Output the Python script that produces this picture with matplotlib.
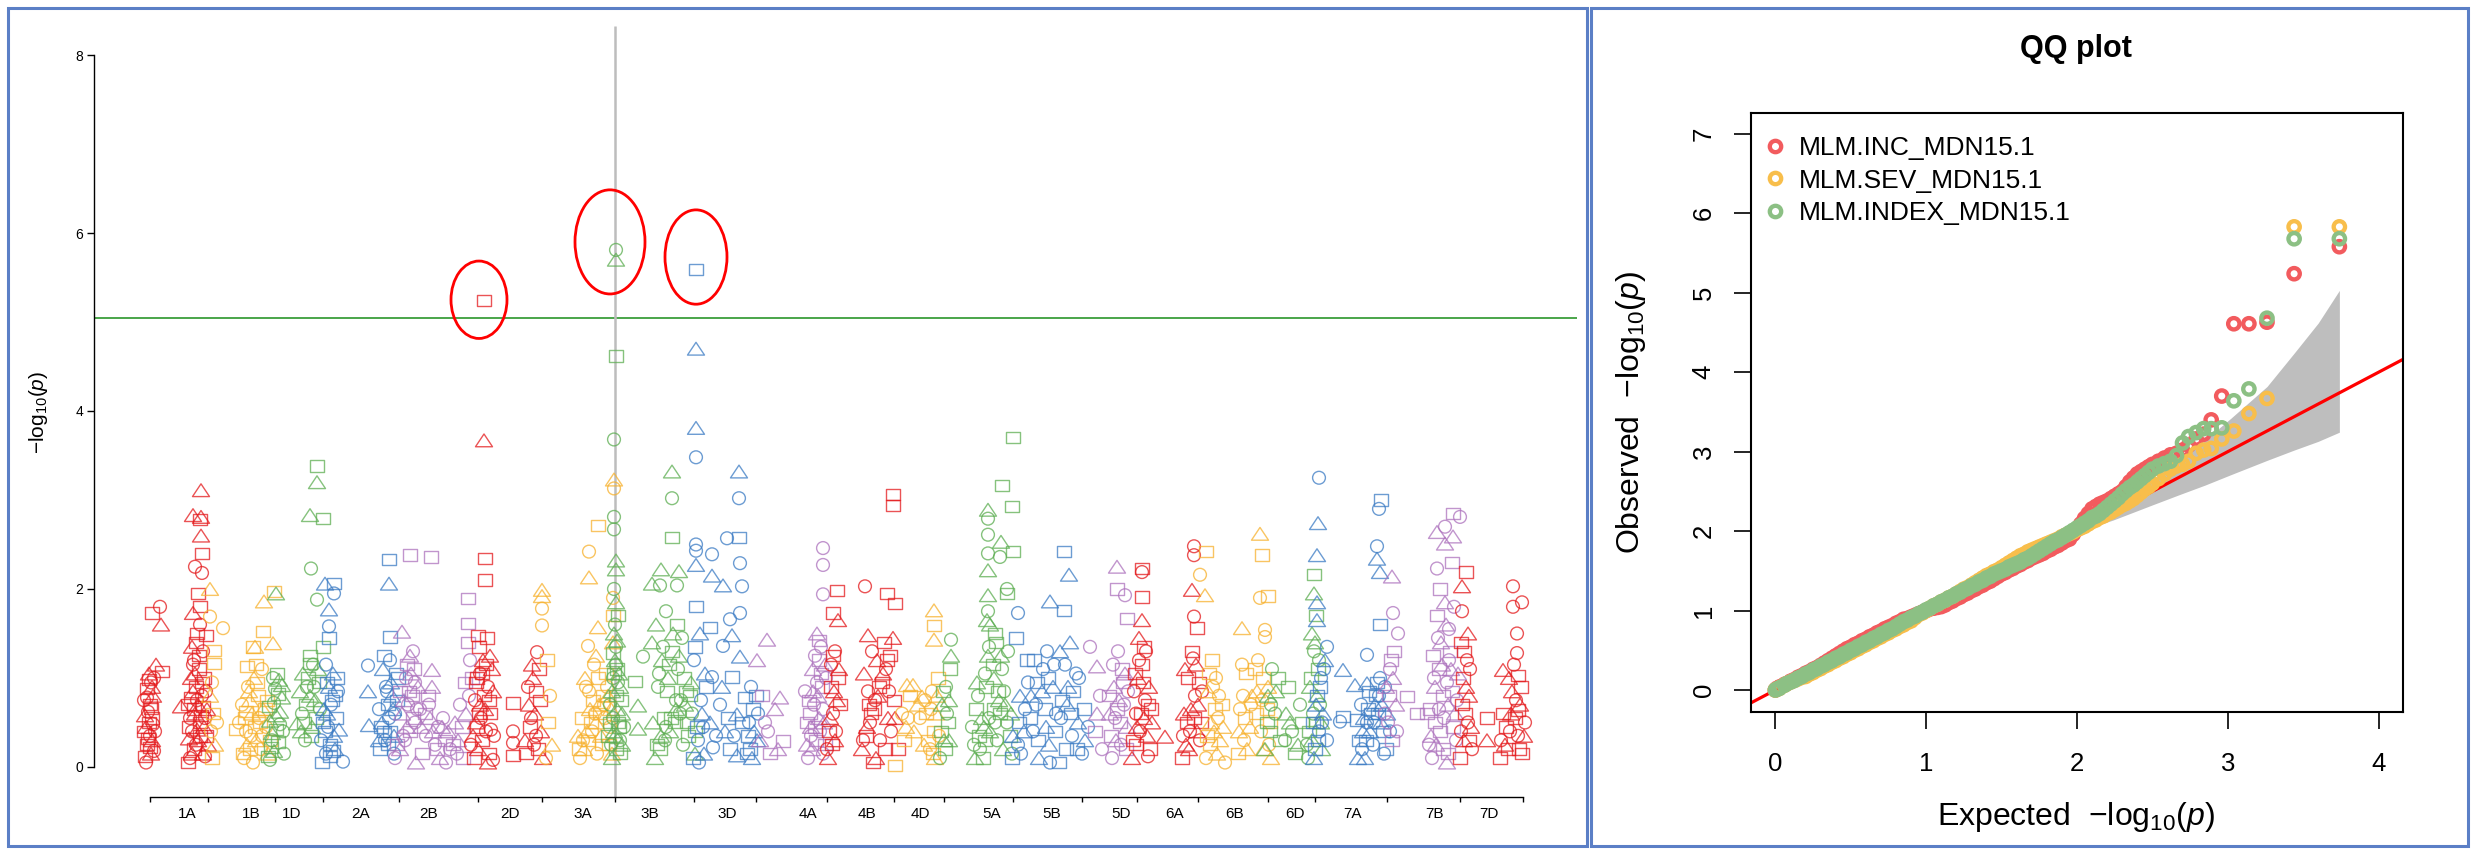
import matplotlib
matplotlib.use("Agg")
import matplotlib.pyplot as plt
from matplotlib.patches import Ellipse, Rectangle
from matplotlib.path import Path
from matplotlib.lines import Line2D

plt.rcParams["font.family"] = ["Liberation Sans", "DejaVu Sans"]
plt.rcParams["mathtext.fontset"] = "custom"
plt.rcParams["mathtext.rm"] = "Liberation Sans"
plt.rcParams["mathtext.it"] = "Liberation Sans:italic"

W, H = 2479, 857

# ---------------- Manhattan data ----------------
CHR_NAMES = ["1A", "1B", "1D", "2A", "2B", "2D", "3A", "3B", "3D", "4A", "4B",
             "4D", "5A", "5B", "5D", "6A", "6B", "6D", "7A", "7B", "7D"]
# chromosome boundaries on the cumulative position axis
CHR_BOUNDS = [0, 58, 125, 173, 249, 328, 392, 465, 544, 606, 677, 744, 794,
              863, 932, 987, 1048, 1118, 1165, 1237, 1310, 1373]
LABEL_POS = [37, 101, 142, 211, 279, 360, 433, 500, 577, 658, 717, 770, 842,
             902, 971, 1025, 1085, 1145, 1203, 1284, 1339]
THRESHOLD = 5.04
TRAITS = ["MLM.INC_MDN15.1", "MLM.SEV_MDN15.1", "MLM.INDEX_MDN15.1"]

# (position, -log10(p), trait) ; trait 0 = INC, 1 = SEV, 2 = INDEX
CHR_1A = [
    (-5, 0.12, 0), (-3, 0.25, 0), (0, 0.35, 1), (-4, 0.45, 2), (2, 0.55, 0), (-2, 0.62, 1),
    (0, 0.70, 0), (3, 0.80, 2), (-3, 0.88, 0), (1, 0.95, 1), (-1, 1.05, 2), (4, 0.18, 1),
    (2, 0.30, 2), (6, 1.15, 2), (2, 1.73, 0), (10, 1.80, 1), (11, 1.60, 2), (12, 1.07, 0),
    (-1, 0.50, 0), (5, 0.40, 1), (-6, 0.75, 1),
    (-4, 0.05, 1), (1, 0.15, 2), (-2, 0.32, 0), (3, 0.48, 1), (-5, 0.58, 2), (1, 0.66, 0),
    (-3, 0.78, 1), (2, 0.90, 2), (-1, 0.98, 0), (4, 1.00, 1), (0, 0.22, 0), (-6, 0.40, 0),
    (31, 0.68, 2), (40, 0.10, 1), (44, 0.20, 0), (48, 0.30, 2), (42, 0.40, 1), (50, 0.50, 0),
    (45, 0.60, 2), (38, 0.70, 0), (52, 0.80, 1), (46, 0.90, 0), (41, 1.00, 2), (49, 1.10, 0),
    (44, 1.20, 1), (53, 0.15, 2), (56, 0.35, 0), (55, 0.55, 1), (58, 0.25, 2), (39, 0.45, 0),
    (47, 0.75, 1), (54, 1.00, 0), (57, 0.65, 2), (43, 0.85, 2),
    (38, 0.05, 0), (42, 0.15, 2), (46, 0.25, 1), (50, 0.35, 0), (54, 0.45, 2), (40, 0.55, 1),
    (44, 0.65, 0), (48, 0.70, 2), (52, 0.95, 0), (56, 0.85, 1), (41, 0.78, 0), (45, 1.05, 2),
    (49, 1.25, 0), (43, 1.15, 1), (51, 0.58, 0), (47, 0.42, 2), (55, 0.12, 1), (39, 0.32, 2),
    (53, 0.68, 0), (46, 1.40, 0),
    (51, 3.11, 2), (43, 2.83, 2), (51, 2.81, 2), (50, 2.78, 0), (51, 2.60, 2), (52, 2.40, 0),
    (45, 2.25, 1), (52, 2.18, 1), (48, 1.95, 0), (50, 1.80, 0), (43, 1.73, 2), (50, 1.60, 1),
    (47, 1.50, 0), (56, 1.48, 0), (42, 1.35, 2), (53, 1.30, 1),
]
CHR_1B = [
    (60, 2.00, 2), (60, 1.69, 1), (73, 1.56, 1), (64, 1.31, 0), (64, 1.16, 0), (62, 0.95, 1),
    (60, 0.80, 2), (63, 0.60, 0), (61, 0.40, 1), (65, 0.25, 2), (62, 0.10, 0), (67, 0.50, 1),
    (114, 1.86, 2), (124, 1.97, 0), (113, 1.52, 0), (103, 1.35, 0), (123, 1.39, 2), (97, 1.13, 0),
    (105, 1.35, 2), (86, 0.42, 0),
    (94, 0.10, 1), (100, 0.20, 0), (106, 0.30, 2), (96, 0.40, 1), (110, 0.50, 0), (102, 0.60, 2),
    (92, 0.70, 1), (108, 0.80, 0), (98, 0.90, 1), (104, 1.00, 2), (112, 0.35, 1), (115, 0.65, 0),
    (118, 0.15, 2), (95, 0.55, 0), (100, 0.75, 2), (112, 1.10, 1),
    (93, 0.15, 0), (97, 0.25, 2), (101, 0.35, 1), (105, 0.45, 0), (109, 0.55, 1), (113, 0.65, 2),
    (117, 0.75, 0), (99, 0.85, 2), (107, 0.95, 0), (111, 0.20, 1), (103, 0.05, 1), (96, 0.62, 0),
    (116, 0.45, 1), (120, 0.30, 0), (89, 0.50, 1), (106, 1.15, 0),
]
CHR_1D = [
    (167, 3.38, 0), (167, 3.20, 2), (160, 2.83, 2), (173, 2.79, 0), (161, 2.23, 1), (167, 1.88, 1),
    (173, 1.35, 0), (160, 1.16, 0), (147, 0.49, 2), (126, 1.95, 2),
    (120, 0.08, 1), (124, 0.18, 2), (128, 0.28, 0), (122, 0.38, 2), (130, 0.48, 1), (126, 0.58, 2),
    (119, 0.68, 0), (132, 0.78, 2), (125, 0.88, 1), (129, 0.98, 2), (121, 0.22, 0), (133, 0.40, 1),
    (127, 1.05, 0),
    (118, 0.12, 0), (122, 0.30, 1), (126, 0.42, 0), (130, 0.62, 2), (124, 0.72, 1), (128, 0.82, 0),
    (132, 0.92, 2), (120, 0.52, 2), (134, 0.15, 1), (123, 1.00, 1),
    (152, 0.60, 1), (156, 0.70, 0), (160, 0.80, 2), (164, 0.90, 1), (158, 1.00, 0), (162, 0.45, 2),
    (155, 0.30, 1), (166, 0.55, 0), (170, 0.65, 1), (150, 0.85, 2), (168, 1.10, 2), (160, 1.25, 0),
    (151, 0.40, 2), (154, 0.50, 0), (157, 0.90, 1), (161, 0.35, 0), (165, 0.75, 2), (169, 0.95, 0),
    (163, 1.15, 1), (153, 1.05, 2),
]
CHR_2A = [
    (184, 2.06, 0), (175, 2.06, 2), (184, 1.95, 1), (179, 1.77, 2), (179, 1.58, 1), (179, 1.45, 0),
    (193, 0.06, 1), (218, 1.14, 1), (218, 0.85, 2), (219, 0.47, 2), (239, 2.33, 0), (239, 2.06, 2),
    (240, 1.46, 0),
    (172, 0.05, 0), (176, 0.15, 1), (180, 0.25, 0), (184, 0.35, 2), (178, 0.45, 1), (186, 0.55, 0),
    (174, 0.65, 2), (182, 0.75, 0), (188, 0.85, 1), (177, 0.95, 0), (183, 1.05, 2), (180, 0.12, 0),
    (185, 0.20, 2), (175, 0.40, 0),
    (171, 0.30, 1), (173, 0.50, 0), (177, 0.60, 2), (181, 0.70, 1), (185, 0.80, 0), (179, 0.90, 2),
    (187, 1.00, 0), (176, 1.15, 1), (183, 0.18, 0), (189, 0.42, 2),
    (230, 0.20, 0), (235, 0.30, 1), (240, 0.40, 0), (232, 0.50, 2), (245, 0.60, 1), (238, 0.70, 0),
    (242, 0.80, 2), (236, 0.90, 1), (248, 1.00, 0), (233, 1.10, 2), (244, 0.35, 2), (240, 1.20, 1),
    (231, 0.45, 0),
    (229, 0.30, 2), (234, 0.40, 0), (239, 0.55, 1), (243, 0.65, 2), (247, 0.75, 0), (237, 0.85, 1),
    (241, 0.95, 2), (246, 1.05, 0), (234, 1.25, 0), (229, 0.65, 1), (244, 0.15, 1), (238, 0.25, 0),
]
CHR_2B = [
    (260, 2.38, 0), (281, 2.36, 0), (252, 1.52, 2), (282, 1.09, 2), (318, 1.89, 0), (318, 1.61, 0),
    (292, 0.45, 2),
    (245, 0.10, 1), (250, 0.20, 2), (255, 0.30, 1), (260, 0.40, 0), (265, 0.50, 1), (252, 0.60, 2),
    (258, 0.70, 1), (262, 0.80, 0), (268, 0.90, 2), (256, 1.00, 1), (264, 1.10, 0), (260, 1.25, 2),
    (272, 0.15, 0), (276, 0.35, 1), (280, 0.55, 2), (270, 0.65, 1), (285, 0.25, 1), (290, 0.10, 2),
    (295, 0.30, 0), (288, 0.45, 1), (278, 0.80, 0), (300, 0.20, 1), (305, 0.50, 2), (310, 0.70, 1),
    (315, 0.95, 0), (308, 0.30, 2), (313, 0.10, 0), (320, 1.20, 1), (318, 1.40, 0), (250, 0.85, 0),
    (266, 0.05, 2),
    (247, 0.25, 0), (253, 0.35, 1), (257, 0.45, 2), (263, 0.55, 0), (267, 0.65, 1), (254, 0.75, 2),
    (259, 0.85, 0), (265, 0.95, 1), (261, 1.05, 2), (257, 1.15, 0), (263, 1.30, 1), (271, 0.45, 2),
    (275, 0.60, 0), (279, 0.70, 1), (283, 0.40, 2), (287, 0.20, 0), (293, 0.55, 1), (298, 0.40, 2),
    (303, 0.25, 0), (307, 0.15, 1), (312, 0.45, 0), (316, 0.60, 2), (319, 0.80, 1), (322, 1.00, 0),
    (296, 0.05, 1), (282, 0.90, 2),
]
CHR_2D = [
    (334, 5.24, 0), (334, 3.67, 2), (335, 2.34, 0), (335, 2.10, 0), (328, 1.48, 0),
    (324, 0.10, 0), (328, 0.20, 2), (332, 0.30, 0), (336, 0.40, 1), (326, 0.50, 2), (340, 0.60, 0),
    (330, 0.70, 2), (334, 0.80, 0), (338, 0.90, 1), (327, 1.00, 0), (342, 1.10, 2), (333, 1.20, 2),
    (329, 1.35, 0), (337, 1.45, 0), (344, 0.35, 1), (321, 0.25, 1), (339, 0.15, 0), (325, 0.75, 1),
    (323, 0.35, 2), (327, 0.45, 0), (331, 0.55, 1), (335, 0.65, 2), (339, 0.75, 0), (343, 0.85, 2),
    (326, 0.95, 0), (330, 1.05, 1), (336, 1.15, 0), (340, 1.25, 2), (332, 1.05, 0), (338, 0.05, 2),
    (329, 0.60, 0), (341, 0.42, 1),
    (363, 0.72, 0), (363, 0.40, 1), (363, 0.27, 1), (363, 0.13, 0), (343, 0.08, 1),
    (387, 1.29, 1), (382, 1.15, 2), (375, 0.30, 2), (380, 0.45, 0), (385, 0.60, 2), (390, 0.75, 0),
    (378, 0.90, 1), (388, 0.20, 0), (393, 0.10, 2), (383, 1.00, 2), (386, 0.35, 1),
    (376, 0.15, 0), (381, 0.55, 1), (386, 0.85, 0), (391, 0.40, 2), (384, 0.25, 1), (389, 1.10, 0),
    (379, 0.70, 2),
]
CHR_3A = [
    (392, 1.99, 2), (392, 1.92, 2), (392, 1.78, 1), (392, 1.59, 1), (397, 1.20, 0), (400, 0.80, 1),
    (398, 0.50, 0), (402, 0.25, 2), (396, 0.10, 1),
    (439, 2.42, 1), (439, 2.13, 2), (448, 2.71, 0), (448, 1.57, 2), (438, 1.36, 1), (464, 3.23, 2),
    (464, 3.13, 1),
    (430, 0.10, 1), (434, 0.20, 2), (438, 0.30, 0), (442, 0.40, 1), (446, 0.50, 2), (450, 0.60, 0),
    (454, 0.70, 1), (458, 0.80, 2), (436, 0.90, 1), (448, 1.00, 0), (444, 1.15, 1), (452, 0.25, 0),
    (460, 0.45, 1), (462, 0.15, 2), (440, 0.65, 2), (456, 1.05, 0), (463, 1.90, 1), (463, 1.70, 0),
    (463, 1.40, 2), (428, 0.35, 2),
    (429, 0.20, 0), (433, 0.30, 1), (437, 0.40, 2), (441, 0.50, 0), (445, 0.60, 1), (449, 0.70, 2),
    (453, 0.80, 0), (457, 0.90, 1), (435, 1.00, 2), (447, 0.15, 1), (451, 0.35, 2), (455, 0.55, 1),
    (459, 0.25, 0), (443, 0.75, 0), (439, 0.85, 1), (461, 0.65, 2), (432, 0.55, 0), (446, 1.25, 2),
]
CHR_3B = [
    (466, 5.81, 1), (466, 5.70, 2), (466, 4.62, 0), (464, 3.68, 1), (464, 2.81, 1), (464, 2.67, 1),
    (466, 2.32, 2), (466, 2.22, 2),
    (462, 0.10, 2), (466, 0.20, 0), (470, 0.30, 1), (464, 0.40, 2), (468, 0.50, 0), (472, 0.60, 2),
    (460, 0.70, 1), (466, 0.80, 0), (470, 0.90, 2), (463, 1.00, 1), (467, 1.10, 0), (465, 1.20, 2),
    (466, 1.35, 1), (464, 1.50, 2), (468, 1.70, 0), (466, 1.85, 2), (464, 2.00, 1), (470, 0.15, 0),
    (474, 0.45, 1), (458, 0.35, 0),
    (461, 0.25, 1), (465, 0.35, 2), (469, 0.45, 0), (463, 0.55, 1), (467, 0.65, 2), (471, 0.75, 0),
    (462, 0.85, 2), (468, 0.95, 1), (464, 1.05, 0), (466, 1.15, 1), (463, 1.28, 0), (467, 1.42, 2),
    (465, 1.60, 1), (469, 1.05, 2), (472, 0.25, 2), (460, 0.50, 0),
    (485, 0.96, 0), (493, 1.24, 1), (488, 0.69, 2), (488, 0.43, 2),
    (522, 3.32, 2), (522, 3.02, 1), (522, 2.58, 0), (502, 2.06, 2), (511, 2.22, 2), (529, 2.20, 2),
    (510, 2.04, 1), (527, 2.04, 1),
    (505, 0.10, 2), (510, 0.20, 0), (515, 0.30, 1), (520, 0.40, 2), (525, 0.50, 0), (530, 0.60, 1),
    (535, 0.70, 2), (540, 0.80, 0), (508, 0.90, 1), (518, 1.00, 2), (528, 1.10, 1), (512, 1.20, 2),
    (522, 1.30, 0), (532, 1.45, 1), (506, 1.60, 2), (516, 1.75, 1), (538, 0.35, 0), (545, 0.15, 2),
    (526, 0.75, 1), (534, 1.00, 0), (514, 0.55, 0), (502, 1.40, 2),
    (507, 0.25, 0), (511, 0.35, 2), (516, 0.45, 1), (521, 0.55, 0), (526, 0.65, 2), (531, 0.75, 1),
    (536, 0.85, 0), (541, 0.95, 2), (509, 1.05, 1), (519, 1.15, 0), (529, 1.25, 2), (513, 1.35, 1),
    (523, 1.50, 2), (533, 0.25, 1), (537, 0.50, 0), (542, 0.60, 1), (517, 0.85, 0), (527, 1.60, 0),
    (503, 0.50, 2), (545, 0.40, 0),
]
CHR_3D = [
    (546, 5.59, 0), (546, 4.70, 2), (546, 3.81, 2), (546, 3.48, 1), (589, 3.32, 2), (589, 3.02, 1),
    (589, 2.58, 0), (577, 2.57, 1), (546, 2.50, 1), (546, 2.43, 1), (562, 2.39, 1), (590, 2.29, 1),
    (546, 2.27, 2), (592, 2.03, 1), (562, 2.15, 2), (573, 2.04, 2), (590, 1.73, 1), (580, 1.66, 1),
    (560, 1.57, 0), (582, 1.48, 2), (573, 1.36, 1), (590, 1.24, 2), (562, 1.01, 1), (582, 1.01, 0),
    (595, 0.78, 0), (587, 0.59, 2), (560, 0.50, 2), (563, 0.22, 1), (587, 0.13, 2), (543, 0.10, 0),
    (548, 0.30, 1), (552, 0.60, 2), (556, 0.90, 0), (544, 1.20, 1), (550, 1.50, 2), (546, 1.80, 0),
    (554, 0.15, 2), (600, 0.20, 0), (604, 0.40, 2), (608, 0.60, 1), (602, 0.10, 2), (598, 0.35, 0),
    (606, 0.80, 0), (570, 0.70, 1), (575, 0.40, 2), (580, 0.20, 0),
    (547, 0.45, 0), (551, 0.75, 1), (555, 1.05, 2), (545, 1.35, 0), (549, 0.05, 1), (553, 0.45, 1),
    (599, 0.50, 1), (603, 0.65, 0), (607, 0.30, 2), (601, 0.90, 1), (597, 0.15, 0), (572, 0.90, 2),
    (578, 0.55, 0), (566, 0.35, 1), (584, 0.35, 1), (592, 0.50, 0),
]
CHR_4A = [
    (617, 1.43, 2), (607, 1.20, 2), (633, 0.29, 0), (630, 0.78, 2), (673, 2.46, 1), (673, 2.27, 1),
    (673, 1.94, 1),
    (658, 0.10, 1), (662, 0.20, 2), (666, 0.30, 0), (670, 0.40, 1), (674, 0.50, 2), (660, 0.60, 0),
    (664, 0.70, 1), (668, 0.80, 2), (672, 0.90, 0), (676, 1.00, 1), (663, 1.10, 2), (669, 1.20, 0),
    (671, 1.35, 1), (667, 1.50, 2), (661, 0.45, 2), (675, 0.25, 0), (655, 0.85, 1), (610, 0.30, 2),
    (615, 0.50, 1), (620, 0.15, 0), (625, 0.65, 2),
    (657, 0.25, 2), (661, 0.35, 1), (665, 0.45, 0), (669, 0.55, 2), (673, 0.65, 1), (659, 0.75, 0),
    (663, 0.85, 2), (667, 0.95, 1), (671, 1.05, 0), (675, 1.15, 2), (665, 1.25, 1), (669, 1.42, 0),
    (657, 0.50, 0), (673, 0.15, 1), (612, 0.80, 0), (618, 0.40, 1), (628, 0.20, 2),
]
CHR_4B = [
    (687, 1.98, 0), (683, 1.73, 0), (688, 1.65, 2), (685, 1.30, 1),
    (678, 0.10, 2), (682, 0.25, 0), (686, 0.40, 1), (680, 0.55, 2), (690, 0.70, 0), (684, 0.85, 2),
    (688, 1.00, 0), (681, 1.15, 1), (685, 0.30, 2),
    (679, 0.40, 0), (683, 0.60, 1), (687, 0.75, 2), (681, 0.90, 0), (689, 1.10, 2), (683, 1.25, 0),
    (677, 0.20, 1),
    (715, 2.03, 1), (743, 3.06, 0), (743, 2.94, 0), (737, 1.95, 0), (745, 1.84, 0), (718, 1.48, 2),
    (743, 1.45, 2),
    (712, 0.20, 2), (716, 0.35, 0), (720, 0.50, 1), (724, 0.65, 0), (728, 0.80, 2), (732, 0.95, 0),
    (736, 1.10, 1), (740, 1.25, 0), (714, 1.05, 2), (722, 1.30, 1), (730, 0.30, 1), (738, 0.55, 2),
    (744, 0.75, 0), (748, 0.20, 0), (726, 0.10, 2), (734, 1.40, 0), (718, 0.85, 1),
    (713, 0.30, 1), (717, 0.45, 2), (721, 0.60, 0), (725, 0.75, 1), (729, 0.90, 0), (733, 1.05, 2),
    (737, 1.20, 0), (741, 0.40, 1), (745, 0.55, 2), (719, 0.70, 0), (727, 1.20, 2), (735, 0.20, 0),
    (739, 0.85, 1), (723, 0.05, 0),
]
CHR_4D = [
    (745, 0.02, 0), (757, 0.92, 2), (763, 0.92, 2), (772, 0.79, 2), (775, 0.75, 1), (784, 1.76, 2),
    (784, 1.59, 0), (784, 1.43, 2),
    (752, 0.60, 1), (760, 0.80, 0), (768, 0.70, 2), (780, 0.20, 1), (784, 0.40, 0), (786, 0.60, 2),
    (782, 0.85, 1), (788, 1.00, 0), (785, 0.10, 2), (778, 0.30, 0), (756, 0.45, 2),
    (754, 0.30, 0), (758, 0.55, 1), (764, 0.40, 2), (770, 0.55, 1), (776, 0.60, 0), (781, 0.65, 1),
    (787, 0.80, 2), (783, 0.15, 0), (789, 0.35, 1), (774, 0.25, 2),
]
CHR_5A = [
    (801, 1.43, 1), (790, 0.10, 1), (794, 0.30, 2), (798, 0.50, 0), (792, 0.70, 2), (796, 0.90, 1),
    (800, 1.10, 0), (795, 0.20, 0), (799, 0.75, 2),
    (791, 0.40, 0), (797, 0.60, 1), (793, 0.85, 0), (799, 0.30, 2), (801, 1.25, 2),
    (863, 3.70, 0), (852, 3.16, 0), (862, 2.93, 0), (838, 2.89, 2), (838, 2.79, 1), (838, 2.61, 1),
    (851, 2.53, 2), (863, 2.42, 0), (838, 2.40, 1), (838, 2.21, 2), (850, 2.36, 1), (857, 2.00, 1),
    (857, 1.95, 0), (838, 1.93, 2),
    (825, 0.10, 2), (830, 0.20, 1), (835, 0.30, 0), (840, 0.40, 2), (845, 0.50, 1), (850, 0.60, 0),
    (855, 0.70, 2), (828, 0.80, 1), (836, 0.90, 0), (844, 1.00, 2), (852, 1.10, 1), (838, 1.25, 2),
    (846, 1.40, 0), (840, 1.60, 2), (838, 1.75, 1), (858, 1.30, 1), (860, 0.35, 0), (832, 0.55, 2),
    (848, 0.85, 0), (822, 0.45, 1), (862, 0.15, 1),
    (824, 0.25, 1), (829, 0.35, 0), (834, 0.45, 2), (839, 0.55, 1), (844, 0.65, 0), (849, 0.75, 2),
    (854, 0.85, 1), (827, 0.95, 2), (835, 1.05, 1), (843, 1.15, 0), (851, 1.25, 2), (839, 1.35, 1),
    (845, 1.50, 0), (837, 1.65, 2), (857, 0.50, 1), (861, 0.60, 2), (826, 0.65, 0), (853, 0.20, 2),
    (847, 0.30, 1), (833, 0.10, 0),
]
CHR_5B = [
    (914, 2.42, 0), (919, 2.16, 2), (900, 1.86, 2), (914, 1.76, 0), (868, 1.73, 1),
    (862, 0.10, 0), (868, 0.25, 1), (874, 0.40, 2), (880, 0.55, 0), (886, 0.70, 1), (892, 0.85, 2),
    (898, 1.00, 0), (904, 1.15, 1), (910, 1.30, 2), (916, 0.20, 0), (922, 0.35, 1), (928, 0.50, 2),
    (934, 0.65, 0), (870, 0.80, 2), (878, 0.95, 1), (888, 0.30, 0), (896, 0.45, 2), (906, 0.60, 1),
    (912, 0.75, 0), (918, 0.90, 2), (926, 1.05, 1), (932, 0.15, 1), (884, 1.20, 0), (900, 0.05, 1),
    (920, 1.40, 2), (866, 1.45, 0),
    (863, 0.35, 2), (869, 0.50, 0), (875, 0.65, 1), (881, 0.80, 2), (887, 0.95, 0), (893, 1.10, 1),
    (899, 0.25, 2), (905, 0.40, 0), (911, 0.55, 1), (917, 0.70, 2), (923, 0.85, 0), (929, 1.00, 1),
    (935, 0.30, 2), (871, 0.15, 1), (877, 1.20, 0), (889, 0.10, 2), (895, 0.65, 0), (903, 0.90, 2),
    (909, 0.05, 0), (915, 1.15, 1), (927, 0.20, 0), (883, 0.40, 1), (897, 1.30, 1), (921, 0.60, 0),
    (938, 0.45, 1),
]
CHR_5D = [
    (940, 1.35, 1), (947, 1.13, 2), (967, 2.25, 2), (967, 2.00, 0), (975, 1.93, 1), (977, 1.67, 0),
    (962, 0.10, 1), (966, 0.30, 2), (970, 0.50, 0), (974, 0.70, 1), (964, 0.90, 2), (972, 1.10, 0),
    (968, 1.30, 1), (976, 0.20, 0), (960, 0.60, 2), (978, 0.85, 1), (945, 0.40, 0), (950, 0.80, 1),
    (961, 0.35, 0), (965, 0.55, 1), (969, 0.75, 2), (973, 0.95, 0), (977, 0.45, 2), (963, 1.15, 1),
    (971, 0.25, 1), (975, 1.05, 2), (959, 0.80, 0), (967, 0.65, 0), (947, 0.60, 2), (952, 0.20, 1),
]
CHR_6A = [
    (992, 2.19, 1), (992, 2.23, 0), (992, 1.91, 0), (992, 1.65, 2), (1015, 0.34, 2),
    (982, 0.10, 2), (986, 0.25, 0), (990, 0.40, 1), (994, 0.55, 2), (998, 0.70, 0), (984, 0.85, 1),
    (988, 1.00, 2), (992, 1.15, 0), (996, 1.30, 1), (1000, 0.20, 0), (1002, 0.50, 2), (989, 1.45, 2),
    (993, 0.95, 0),
    (983, 0.30, 0), (987, 0.45, 2), (991, 0.60, 0), (995, 0.75, 1), (999, 0.90, 2), (985, 1.05, 0),
    (989, 1.20, 1), (997, 0.35, 2), (1001, 0.65, 0), (994, 1.35, 0), (986, 0.60, 1), (998, 0.12, 1),
    (1044, 2.48, 1), (1044, 2.38, 1), (1042, 1.99, 2), (1044, 1.69, 1), (1047, 1.56, 0),
    (1032, 0.10, 0), (1036, 0.25, 2), (1040, 0.40, 1), (1044, 0.55, 0), (1048, 0.70, 2),
    (1052, 0.85, 1), (1038, 1.00, 0), (1046, 1.15, 2), (1042, 1.30, 0), (1050, 0.30, 1),
    (1034, 0.60, 2),
    (1033, 0.35, 1), (1037, 0.50, 0), (1041, 0.65, 2), (1045, 0.80, 1), (1049, 0.95, 0),
    (1035, 1.10, 2), (1043, 1.22, 1), (1051, 0.50, 0), (1039, 0.20, 2), (1047, 0.40, 2),
]
CHR_6B = [
    (1056, 2.42, 0), (1050, 2.16, 1), (1055, 1.93, 2), (1092, 1.56, 2), (1110, 2.62, 2),
    (1112, 2.38, 0), (1118, 1.92, 0), (1110, 1.90, 1), (1115, 1.54, 1), (1115, 1.46, 1),
    (1092, 1.15, 1),
    (1056, 0.10, 1), (1060, 0.25, 0), (1064, 0.40, 2), (1068, 0.55, 1), (1072, 0.70, 0),
    (1058, 0.85, 2), (1066, 1.00, 1), (1062, 1.20, 0), (1070, 0.30, 2), (1075, 0.05, 1),
    (1057, 0.35, 0), (1061, 0.50, 2), (1065, 0.65, 0), (1069, 0.80, 1), (1073, 0.45, 2),
    (1059, 1.05, 0), (1067, 0.15, 2), (1063, 0.90, 1),
    (1088, 0.15, 0), (1094, 0.30, 1), (1100, 0.45, 2), (1106, 0.60, 0), (1112, 0.75, 1),
    (1118, 0.90, 2), (1096, 1.05, 0), (1108, 1.20, 1), (1114, 0.20, 2), (1120, 0.50, 0),
    (1102, 0.80, 2), (1090, 0.65, 1),
    (1089, 0.40, 2), (1095, 0.55, 0), (1101, 0.70, 1), (1107, 0.85, 2), (1113, 1.00, 0),
    (1119, 0.25, 1), (1097, 0.20, 2), (1105, 1.10, 0), (1111, 0.40, 1), (1117, 0.65, 0),
    (1093, 0.80, 1), (1121, 0.10, 2),
]
CHR_6D = [
    (1115, 0.20, 2), (1120, 0.40, 0), (1125, 0.60, 1), (1118, 0.80, 2), (1128, 1.00, 0),
    (1122, 1.10, 1), (1135, 0.30, 1), (1140, 0.50, 2), (1145, 0.15, 0), (1150, 0.70, 1),
    (1138, 0.90, 0),
    (1117, 0.50, 0), (1121, 0.70, 1), (1126, 0.85, 2), (1130, 0.30, 0), (1136, 0.60, 2),
    (1142, 0.40, 1), (1148, 0.25, 2), (1152, 0.50, 0),
    (1164, 2.16, 0), (1164, 1.95, 2),
    (1158, 0.10, 1), (1162, 0.30, 2), (1166, 0.50, 0), (1170, 0.70, 1), (1160, 0.90, 2),
    (1168, 1.10, 0), (1164, 1.30, 1), (1162, 1.50, 2), (1166, 1.70, 0), (1172, 0.20, 2),
    (1159, 0.40, 0), (1163, 0.60, 1), (1167, 0.80, 2), (1161, 1.00, 0), (1169, 1.20, 1),
    (1165, 1.40, 2), (1171, 0.50, 2), (1157, 0.25, 1),
]
CHR_7A = [
    (1169, 3.25, 1), (1168, 2.74, 2), (1167, 2.38, 2), (1167, 1.85, 2), (1167, 1.65, 2),
    (1177, 1.35, 1),
    (1165, 0.20, 0), (1169, 0.40, 1), (1173, 0.60, 2), (1167, 0.80, 0), (1171, 1.00, 1),
    (1175, 1.20, 2), (1163, 0.50, 0), (1177, 0.30, 1),
    (1164, 0.10, 2), (1168, 0.30, 0), (1172, 0.50, 1), (1166, 0.70, 2), (1170, 0.90, 0),
    (1174, 1.10, 1),
    (1231, 3.00, 0), (1229, 2.90, 1), (1227, 2.48, 1), (1227, 2.34, 2), (1230, 2.19, 2),
    (1230, 1.60, 0), (1193, 1.09, 2), (1217, 1.26, 1), (1205, 0.92, 2), (1217, 0.94, 2),
    (1190, 0.51, 1), (1193, 0.57, 0), (1207, 0.53, 0),
    (1208, 0.10, 2), (1212, 0.20, 1), (1216, 0.30, 0), (1220, 0.40, 2), (1224, 0.50, 1),
    (1228, 0.60, 0), (1232, 0.70, 2), (1236, 0.20, 0), (1240, 0.40, 1), (1214, 0.55, 2),
    (1226, 0.80, 0), (1234, 0.15, 1), (1218, 0.65, 0), (1230, 1.00, 1),
    (1209, 0.30, 0), (1213, 0.40, 2), (1217, 0.50, 1), (1221, 0.60, 0), (1225, 0.70, 2),
    (1229, 0.80, 1), (1233, 0.40, 0), (1237, 0.60, 2), (1211, 0.70, 1), (1219, 0.85, 0),
    (1215, 0.10, 2), (1223, 0.25, 1), (1231, 0.50, 2), (1227, 0.95, 0), (1235, 0.90, 1),
]
CHR_7B = [
    (1242, 2.14, 2), (1243, 1.73, 1), (1257, 0.79, 0), (1267, 0.60, 0), (1277, 0.60, 0),
    (1236, 0.90, 2), (1240, 1.10, 1), (1244, 1.30, 0), (1238, 0.50, 1), (1246, 0.70, 2),
    (1242, 0.30, 0), (1248, 1.50, 1),
    (1235, 0.60, 1), (1239, 0.80, 0), (1243, 1.00, 2), (1247, 0.40, 1), (1241, 1.20, 0),
    (1303, 2.85, 0), (1310, 2.81, 1), (1287, 2.64, 2), (1295, 2.70, 1), (1295, 2.51, 2),
    (1303, 2.59, 2), (1302, 2.30, 0), (1287, 2.23, 1),
    (1282, 0.10, 1), (1286, 0.25, 2), (1290, 0.40, 0), (1294, 0.55, 1), (1298, 0.70, 2),
    (1302, 0.85, 0), (1284, 1.00, 1), (1292, 1.15, 2), (1300, 1.30, 0), (1288, 1.45, 1),
    (1296, 1.60, 2), (1304, 1.80, 1), (1290, 2.00, 0), (1306, 0.30, 1), (1280, 0.65, 0),
    (1308, 1.05, 2), (1298, 0.15, 0),
    (1281, 0.35, 2), (1285, 0.50, 0), (1289, 0.65, 1), (1293, 0.80, 0), (1297, 0.95, 1),
    (1301, 1.10, 2), (1283, 1.25, 0), (1291, 1.40, 2), (1299, 1.55, 1), (1287, 1.70, 0),
    (1295, 1.85, 2), (1303, 0.45, 0), (1305, 0.60, 2), (1279, 0.25, 1), (1307, 0.75, 1),
    (1285, 0.90, 2), (1293, 0.20, 0), (1299, 1.20, 1), (1289, 1.10, 0), (1297, 0.05, 2),
]
CHR_7D = [
    (1316, 2.19, 0), (1312, 2.03, 2),
    (1310, 0.10, 0), (1314, 0.30, 2), (1318, 0.50, 1), (1312, 0.70, 0), (1316, 0.90, 2),
    (1320, 1.10, 1), (1314, 1.30, 0), (1318, 1.50, 2), (1312, 1.75, 1), (1322, 0.20, 1),
    (1311, 0.40, 1), (1315, 0.60, 0), (1319, 0.80, 2), (1313, 1.00, 0), (1317, 1.20, 1),
    (1321, 0.45, 2), (1311, 1.40, 0), (1319, 0.30, 0),
    (1337, 0.55, 0), (1337, 0.30, 2),
    (1363, 2.03, 1), (1363, 1.80, 1), (1372, 1.85, 1), (1367, 1.50, 1), (1367, 1.28, 1),
    (1353, 1.09, 2), (1368, 1.03, 0), (1368, 0.64, 0),
    (1350, 0.10, 0), (1355, 0.25, 2), (1360, 0.40, 1), (1365, 0.55, 0), (1370, 0.70, 2),
    (1358, 0.20, 0), (1368, 0.35, 1), (1362, 0.85, 2), (1372, 0.15, 0), (1375, 0.50, 1),
    (1351, 0.30, 1), (1356, 0.45, 0), (1361, 0.60, 2), (1366, 0.75, 1), (1371, 0.90, 0),
    (1359, 1.00, 2), (1369, 0.20, 0), (1364, 1.15, 1), (1374, 0.35, 2), (1353, 0.60, 0),
]

# circled significant hits: (centre position, centre value, width, height)
HIGHLIGHTS = [(329, 5.25, 56, 0.87), (460, 5.90, 70, 1.17), (546, 5.73, 62, 1.06)]

# ---------------- QQ data ----------------
QQ_EXP_TAIL = [3.74, 3.44, 3.26, 3.14, 3.04, 2.96, 2.89, 2.84, 2.79, 2.74, 2.70]
QQ_EXP_BULK = [2.66, 2.62, 2.58, 2.54, 2.50, 2.45, 2.40, 2.35, 2.30, 2.25, 2.20, 2.15,
               2.10, 2.05, 2.00, 1.95, 1.90, 1.85, 1.80, 1.75, 1.70, 1.65, 1.60, 1.55,
               1.50, 1.45, 1.40, 1.35, 1.30, 1.25, 1.20, 1.15, 1.10, 1.05, 1.00, 0.95,
               0.90, 0.85, 0.80, 0.75, 0.70, 0.65, 0.60, 0.55, 0.50, 0.45, 0.40, 0.35,
               0.30, 0.25, 0.20, 0.15, 0.10, 0.06, 0.03, 0.01, 0.00]
QQ_EXP_MID = [2.475, 2.425, 2.375, 2.325, 2.275, 2.225, 2.175, 2.125, 2.075, 2.025,
              1.975, 1.925, 1.875, 1.825, 1.775, 1.725, 1.675, 1.625, 1.575, 1.525,
              1.475, 1.425, 1.375, 1.325, 1.275, 1.225, 1.175, 1.125, 1.075, 1.025,
              0.975, 0.925, 0.875, 0.825, 0.775, 0.725, 0.675, 0.625, 0.575, 0.525,
              0.475, 0.425, 0.375, 0.325, 0.275, 0.225, 0.175, 0.125, 0.075, 0.025]
INC_TAIL = [5.58, 5.24, 4.63, 4.61, 4.61, 3.70, 3.40, 3.22, 3.16, 3.08, 3.02]
SEV_TAIL = [5.83, 5.83, 3.67, 3.48, 3.26, 3.16, 3.04, 3.02, 2.98, 2.88, 2.84]
IDX_TAIL = [5.68, 5.68, 4.68, 3.79, 3.64, 3.30, 3.29, 3.29, 3.24, 3.19, 3.11]
INC_BULK = [2.98, 2.96, 2.92, 2.88, 2.84, 2.78, 2.72, 2.62, 2.50, 2.44, 2.38, 2.34,
            2.28, 2.16, 2.02, 1.90, 1.85, 1.80, 1.75, 1.70, 1.66, 1.61, 1.56, 1.51,
            1.46, 1.40, 1.35, 1.30, 1.25, 1.20, 1.15, 1.10, 1.05, 1.03, 1.00, 0.96,
            0.92, 0.89, 0.84, 0.79, 0.74, 0.69, 0.64, 0.59, 0.54, 0.49, 0.43, 0.37,
            0.31, 0.26, 0.21, 0.16, 0.11, 0.07, 0.04, 0.02, 0.00]
SEV_BULK = [2.82, 2.78, 2.72, 2.66, 2.60, 2.53, 2.45, 2.38, 2.33, 2.27, 2.22, 2.17,
            2.12, 2.06, 2.02, 1.97, 1.93, 1.88, 1.84, 1.80, 1.76, 1.71, 1.66, 1.60,
            1.54, 1.49, 1.44, 1.38, 1.32, 1.27, 1.21, 1.16, 1.11, 1.06, 1.00, 0.95,
            0.87, 0.82, 0.77, 0.72, 0.67, 0.62, 0.57, 0.52, 0.47, 0.42, 0.37, 0.32,
            0.27, 0.22, 0.17, 0.14, 0.10, 0.06, 0.03, 0.01, 0.00]
IDX_BULK = [2.95, 2.88, 2.85, 2.82, 2.78, 2.70, 2.62, 2.55, 2.47, 2.38, 2.30, 2.22,
            2.17, 2.10, 2.04, 1.98, 1.92, 1.87, 1.81, 1.75, 1.69, 1.64, 1.59, 1.55,
            1.50, 1.46, 1.41, 1.36, 1.31, 1.26, 1.21, 1.16, 1.11, 1.06, 1.01, 0.96,
            0.91, 0.86, 0.80, 0.75, 0.70, 0.65, 0.60, 0.55, 0.50, 0.45, 0.40, 0.35,
            0.30, 0.25, 0.20, 0.15, 0.10, 0.06, 0.03, 0.01, 0.00]
INC_MID = [2.81, 2.75, 2.67, 2.56, 2.47, 2.41, 2.36, 2.31, 2.22, 2.09,
           1.96, 1.88, 1.82, 1.77, 1.72, 1.68, 1.63, 1.58, 1.53, 1.48,
           1.43, 1.37, 1.32, 1.27, 1.22, 1.17, 1.12, 1.07, 1.04, 1.02,
           0.98, 0.94, 0.90, 0.86, 0.81, 0.77, 0.72, 0.67, 0.62, 0.57,
           0.52, 0.46, 0.40, 0.34, 0.28, 0.23, 0.18, 0.13, 0.08, 0.03]
SEV_MID = [2.56, 2.49, 2.41, 2.35, 2.30, 2.24, 2.19, 2.14, 2.09, 2.04,
           1.99, 1.95, 1.90, 1.86, 1.82, 1.78, 1.74, 1.69, 1.63, 1.57,
           1.51, 1.46, 1.41, 1.35, 1.29, 1.24, 1.18, 1.13, 1.08, 1.03,
           0.97, 0.91, 0.85, 0.80, 0.75, 0.70, 0.65, 0.60, 0.55, 0.50,
           0.45, 0.40, 0.35, 0.30, 0.25, 0.20, 0.16, 0.12, 0.08, 0.02]
IDX_MID = [2.74, 2.66, 2.58, 2.51, 2.42, 2.34, 2.26, 2.19, 2.13, 2.07,
           2.01, 1.95, 1.89, 1.84, 1.78, 1.72, 1.66, 1.61, 1.57, 1.52,
           1.48, 1.43, 1.38, 1.33, 1.28, 1.23, 1.18, 1.13, 1.08, 1.03,
           0.98, 0.93, 0.88, 0.83, 0.77, 0.72, 0.67, 0.62, 0.57, 0.52,
           0.47, 0.42, 0.37, 0.32, 0.27, 0.22, 0.17, 0.12, 0.08, 0.02]
# 95% band of the expected distribution
BAND_X = [2.02, 2.24, 2.50, 2.68, 2.85, 3.02, 3.26, 3.44, 3.60, 3.74]
BAND_HI = [2.02, 2.32, 2.65, 2.92, 3.15, 3.42, 3.82, 4.24, 4.62, 5.03]
BAND_LO = [2.00, 2.14, 2.33, 2.46, 2.58, 2.71, 2.89, 3.02, 3.13, 3.245]

CHR_POINTS = [CHR_1A, CHR_1B, CHR_1D, CHR_2A, CHR_2B, CHR_2D, CHR_3A, CHR_3B, CHR_3D,
              CHR_4A, CHR_4B, CHR_4D, CHR_5A, CHR_5B, CHR_5D, CHR_6A, CHR_6B, CHR_6D,
              CHR_7A, CHR_7B, CHR_7D]

CHR_COLORS = ["#E41A1C", "#F7B12D", "#5DAE52", "#3B7BC4", "#AD72BD"]
QQ_COLORS = ["#F25B5E", "#F8BE4B", "#8CC084"]


def closed_marker(verts):
    codes = [Path.MOVETO] + [Path.LINETO] * (len(verts) - 1) + [Path.CLOSEPOLY]
    return Path(list(verts) + [verts[0]], codes)


TRAIT_MARKERS = [
    closed_marker([(-1, -0.8), (1, -0.8), (1, 0.8), (-1, 0.8)]),
    "o",
    closed_marker([(-1, -0.75), (1, -0.75), (0, 0.75)]),
]
TRAIT_SIZES = [105, 85, 150]


def px_axes(fig, left, top, right, bottom):
    return fig.add_axes([left / W, 1 - bottom / H, (right - left) / W, (bottom - top) / H])


def draw_manhattan(fig):
    ax = px_axes(fig, 94, 26, 1577, 800)
    ax.set_xlim(-56, 1427)
    ax.set_ylim(-0.371, 8.326)
    for i, pts in enumerate(CHR_POINTS):
        color = CHR_COLORS[i % len(CHR_COLORS)]
        for t in range(3):
            xs = [p[0] for p in pts if p[2] == t]
            ys = [p[1] for p in pts if p[2] == t]
            ax.scatter(xs, ys, s=TRAIT_SIZES[t], marker=TRAIT_MARKERS[t],
                       facecolors="none", edgecolors=color, linewidths=1.0,
                       alpha=0.75, zorder=2)

    ax.axhline(THRESHOLD, color="#3C9E3C", lw=1.3, zorder=1)
    x_axis_y = -0.337
    ax.vlines(CHR_BOUNDS[7], x_axis_y, 8.326, color="#BDBDBD", lw=1.8, zorder=1.5)

    for cx, cy, w, h in HIGHLIGHTS:
        ax.add_patch(Ellipse((cx, cy), w, h, fill=False, ec="#FF0000", lw=2.0, zorder=3))

    for side in ["top", "right"]:
        ax.spines[side].set_visible(False)
    ax.spines["left"].set_bounds(0, 8)
    ax.spines["left"].set_linewidth(1.0)
    ax.spines["bottom"].set_position(("data", x_axis_y))
    ax.spines["bottom"].set_bounds(CHR_BOUNDS[0], CHR_BOUNDS[-1])
    ax.spines["bottom"].set_linewidth(1.0)

    ax.set_yticks([0, 2, 4, 6, 8])
    ax.tick_params(axis="y", length=5, width=1.0, labelsize=10, pad=3)
    ax.set_xticks(CHR_BOUNDS)
    ax.set_xticklabels([])
    ax.set_xticks(LABEL_POS, minor=True)
    ax.set_xticklabels(CHR_NAMES, minor=True)
    ax.tick_params(axis="x", which="major", length=3.6, width=1.0)
    ax.tick_params(axis="x", which="minor", length=0, labelsize=11, pad=7)

    fig.text(38 / W, 1 - 412 / H, r"$-\mathrm{log}_{10}(p)$", rotation=90,
             ha="center", va="center", fontsize=15)


def draw_qq(fig):
    ax = px_axes(fig, 1751, 113, 2403, 712)
    ax.set_xlim(-0.1618, 4.162)
    ax.set_ylim(-0.277, 7.263)

    ax.fill_between(BAND_X, BAND_LO, BAND_HI, color="#BEBEBE", lw=0, zorder=1)
    ax.axline((0, 0), slope=1, color="#FF0000", lw=2.3, zorder=2)

    series = [(INC_BULK, INC_MID, INC_TAIL), (SEV_BULK, SEV_MID, SEV_TAIL),
              (IDX_BULK, IDX_MID, IDX_TAIL)]
    for (bulk, mid, tail), color in zip(series, QQ_COLORS):
        ax.scatter(QQ_EXP_BULK + QQ_EXP_MID + QQ_EXP_TAIL, bulk + mid + tail, s=67,
                   facecolors="none", edgecolors=color, linewidths=3.1, zorder=3)

    handles = [Line2D([], [], ls="none", marker="o", ms=8.2, mfc="none", mec=c, mew=3.1)
               for c in QQ_COLORS]
    ax.legend(handles, TRAITS, loc="upper left", bbox_to_anchor=(0, 1 - 6 / 599),
              frameon=False, fontsize=19, borderpad=0, borderaxespad=0.66,
              handlelength=0.5, handletextpad=0.66, labelspacing=0.31)

    ax.set_xticks([0, 1, 2, 3, 4])
    ax.set_yticks(range(8))
    ax.tick_params(axis="both", length=12.5, width=1.2, labelsize=18.5)
    ax.tick_params(axis="x", pad=16)
    ax.tick_params(axis="y", pad=13, labelrotation=90)
    for lab in ax.get_yticklabels():
        lab.set_va("center")
    for sp in ax.spines.values():
        sp.set_linewidth(1.5)

    fig.text(2076 / W, 1 - 49 / H, "QQ plot", ha="center", va="center",
             fontsize=22, fontweight="bold")
    fig.text(2076 / W, 1 - 817 / H, r"Expected  $-\mathrm{log}_{10}(p)$",
             ha="center", va="center", fontsize=23)
    fig.text(1631 / W, 1 - 412 / H, r"Observed  $-\mathrm{log}_{10}(p)$",
             rotation=90, ha="center", va="center", fontsize=23)


def main():
    fig = plt.figure(figsize=(W / 100, H / 100), dpi=100)
    draw_manhattan(fig)
    draw_qq(fig)

    # panel frames
    for left, right in [(8, 1587), (1591, 2468)]:
        fig.patches.append(Rectangle((left / W, 1 - 846 / H), (right - left) / W, 838 / H,
                                     transform=fig.transFigure, fill=False,
                                     ec="#5B7FC6", lw=2.2))
    fig.savefig("out.png", dpi=100)


if __name__ == "__main__":
    main()
